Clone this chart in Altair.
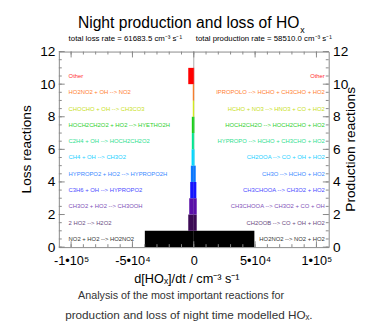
import altair as alt
import pandas as pd

rows = list(range(11))
loss_labels = [
    "NO2 + HO2 --> HO2NO2", "2 HO2 --> H2O2", "CH3O2 + HO2 --> CH3OOH",
    "C3H6 + OH --> HYPROPO2", "HYPROPO2 + HO2 --> HYPROPO2H", "CH4 + OH --> CH3O2",
    "C2H4 + OH --> HOCH2CH2O2", "HOCH2CH2O2 + HO2 --> HYETHO2H",
    "CHOCHO + OH --> CH3CO3", "HO2NO2 + OH --> NO2", "Other",
]
prod_labels = [
    "HO2NO2 --> NO2 + HO2", "CH2OOB --> CO + OH + HO2", "CH3CHOOA --> CH3O2 + CO + OH",
    "CH3CHOOA --> CH3O2 + HO2", "CH3O --> HCHO + HO2", "CH2OOA --> CO + OH + HO2",
    "HYPROPO --> HCHO + CH3CHO + HO2", "HOCH2CH2O --> HOCH2CHO + HO2",
    "HCHO + NO3 --> HNO3 + CO + HO2", "IPROPOLO --> HCHO + CH3CHO + HO2", "Other",
]
loss_values = [-39900, -4500, -3700, -2900, -2400, -1800, -1600, -1600, -800, -800, -4500]
prod_values = [49400, 2400, 2400, 2100, 1600, 600, 300, 500, 300, 300, 300]
bar_colors = ["#000000", "#3c0a55", "#5a0fa8", "#1414ff", "#0a78ff", "#00d8ff",
              "#00e890", "#18d018", "#d8f000", "#ff7010", "#ff0000"]
text_colors = ["#333333", "#6a4a80", "#8050b8", "#4a4aff", "#3a88ff", "#20d0ff",
               "#30e090", "#30d030", "#c8e020", "#ff8030", "#ff3030"]

y_major = [0, 2, 4, 6, 8, 10, 12]
y_minor = [v / 2 for v in range(0, 25)]
x_major = [-100000, -50000, 0, 50000, 100000]
x_minor = [v * 10000 for v in range(-10, 11)]

title_main = "Night production and loss of HO"
title_sub = "x"
loss_total = "total loss rate = 61683.5 cm\u207b\u00b3 s\u207b\u00b9"
prod_total = "total production rate = 58510.0 cm\u207b\u00b3 s\u207b\u00b9"
x_title = "d[HO\u2093]/dt / cm\u207b\u00b3 s\u207b\u00b9"
caption = ["Analysis of the most important reactions for",
           "production and loss of night time modelled HO\u2093."]

FONT = "Liberation Sans"
W, H = 276, 200

df = pd.DataFrame({
    "row": rows, "loss": loss_values, "prod": prod_values,
    "color": bar_colors, "tcolor": text_colors,
    "loss_label": loss_labels, "prod_label": prod_labels,
})
df["top"] = df["row"] + 1
df["mid"] = df["row"] + 0.5

xs = alt.Scale(domain=[-110000, 110000], nice=False, zero=False)
ys = alt.Scale(domain=[0, 12], nice=False, zero=False)

label_expr = ("datum.value == 0 ? '0' : datum.value == 50000 ? '5\u202210\u2074' : "
              "datum.value == 100000 ? '1\u202210\u2075' : datum.value == -50000 ? '-5\u202210\u2074' : "
              "'-1\u202210\u2075'")

x_axis = alt.Axis(values=x_major, labelExpr=label_expr, title=None,
                  ticks=False, domain=False, grid=False,
                  labelFontSize=13, labelFont=FONT, labelPadding=8, labelColor="black")

base = alt.Chart(df)

zero_line = alt.Chart(pd.DataFrame({"z": [0]})).mark_rule(color="#aaaaaa", strokeWidth=1).encode(
    x=alt.X("z:Q", scale=xs, axis=x_axis), y=alt.value(0), y2=alt.value(H))

loss_bars = base.mark_rect().encode(
    x=alt.X("loss:Q", scale=xs, axis=x_axis),
    x2=alt.datum(0),
    y=alt.Y("row:Q", scale=ys, axis=alt.Axis(values=y_major, orient="left", title=None,
                                             ticks=False, domain=False, grid=False,
                                             labelFontSize=14, labelFont=FONT, labelPadding=4,
                                             labelColor="black")),
    y2="top:Q",
    color=alt.Color("color:N", scale=None),
)
prod_bars = base.mark_rect().encode(
    x=alt.X("prod:Q", scale=xs, axis=x_axis),
    x2=alt.datum(0),
    y=alt.Y("row:Q", scale=ys, axis=alt.Axis(values=y_major, orient="right", title=None,
                                             ticks=False, domain=False, grid=False,
                                             labelFontSize=14, labelFont=FONT, labelPadding=4,
                                             labelColor="black")),
    y2="top:Q",
    color=alt.Color("color:N", scale=None),
)

loss_text = base.mark_text(align="left", baseline="middle", fontSize=6, font=FONT).encode(
    x=alt.value(10), y=alt.Y("mid:Q", scale=ys, axis=None), text="loss_label:N",
    color=alt.Color("tcolor:N", scale=None))
prod_text = base.mark_text(align="right", baseline="middle", fontSize=6, font=FONT).encode(
    x=alt.value(272), y=alt.Y("mid:Q", scale=ys, axis=None), text="prod_label:N",
    color=alt.Color("tcolor:N", scale=None))

ymaj = pd.DataFrame({"v": y_major})
ymin = pd.DataFrame({"v": y_minor})
xmaj = pd.DataFrame({"v": x_major})
xmin = pd.DataFrame({"v": x_minor})
tc = "#888888"
ticks = [
    alt.Chart(ymaj).mark_rule(color=tc).encode(y=alt.Y("v:Q", scale=ys, axis=None), x=alt.value(0), x2=alt.value(6)),
    alt.Chart(ymin).mark_rule(color=tc).encode(y=alt.Y("v:Q", scale=ys, axis=None), x=alt.value(0), x2=alt.value(3)),
    alt.Chart(ymaj).mark_rule(color=tc).encode(y=alt.Y("v:Q", scale=ys, axis=None), x=alt.value(W), x2=alt.value(W - 6)),
    alt.Chart(ymin).mark_rule(color=tc).encode(y=alt.Y("v:Q", scale=ys, axis=None), x=alt.value(W), x2=alt.value(W - 3)),
    alt.Chart(xmaj).mark_rule(color=tc).encode(x=alt.X("v:Q", scale=xs, axis=x_axis), y=alt.value(H), y2=alt.value(H - 6)),
    alt.Chart(xmin).mark_rule(color=tc).encode(x=alt.X("v:Q", scale=xs, axis=x_axis), y=alt.value(H), y2=alt.value(H - 3)),
    alt.Chart(xmaj).mark_rule(color=tc).encode(x=alt.X("v:Q", scale=xs, axis=x_axis), y=alt.value(0), y2=alt.value(6)),
    alt.Chart(xmin).mark_rule(color=tc).encode(x=alt.X("v:Q", scale=xs, axis=x_axis), y=alt.value(0), y2=alt.value(3)),
]


def label(text, x, y, size, align="center", color="black", angle=0, baseline="middle"):
    kw = dict(align=align, baseline=baseline, fontSize=size, font=FONT, color=color)
    if angle:
        kw["angle"] = angle
    return alt.Chart(pd.DataFrame({"t": [text]})).mark_text(**kw).encode(
        text="t:N", x=alt.value(x), y=alt.value(y))


annotations = [
    label(title_main, 246, -29, 16, align="right"),
    label(title_sub, 247, -22, 9, align="left"),
    label(loss_total, 10, -13, 8, align="left"),
    label(prod_total, 140, -13, 8, align="left"),
    label(x_title, 131, 233, 13),
    label(caption[0], 125, 250, 11, color="#333333"),
    label(caption[1], 133, 269, 12, color="#333333"),
    label("Loss reactions", -32, 100, 14, angle=270),
    label("Production reactions", 299, 100, 14, angle=270),
]

chart = alt.layer(zero_line, loss_bars, prod_bars, loss_text, prod_text, *ticks, *annotations).resolve_axis(
    y="independent"
).properties(
    width=W, height=H,
    autosize=alt.AutoSizeParams(type="none"),
    padding={"left": 52, "top": 41, "right": 32, "bottom": 72},
    background="white",
).configure_view(stroke="#888888", strokeWidth=1)

chart.save("out.html", embed_options={"renderer": "svg", "actions": False})
